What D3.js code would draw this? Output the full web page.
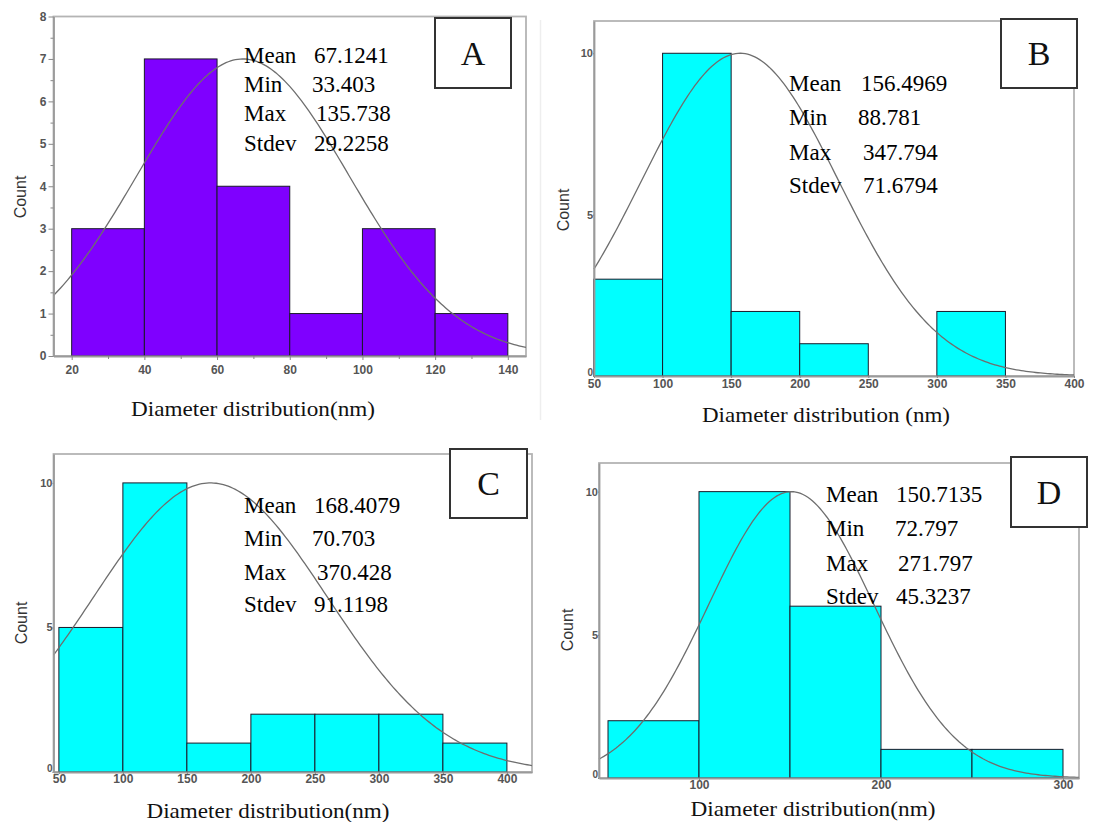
<!DOCTYPE html>
<html>
<head>
<meta charset="utf-8">
<script src="https://cdn.jsdelivr.net/npm/d3@7"></script>
<style>
  body { margin: 0; background: #fff; }
  .stat { font-family: "Liberation Serif", "Times New Roman", serif; font-size: 23px; fill: #000; }
  .xlab { font-family: "Liberation Serif", "Times New Roman", serif; font-size: 22px; fill: #111; }
  .ylab { font-family: "Liberation Sans", Arial, sans-serif; font-size: 16px; fill: #333; }
  .tick text { font-family: "Liberation Sans", Arial, sans-serif; font-weight: bold; fill: #555; }
  .letter { font-family: "Liberation Serif", "Times New Roman", serif; font-size: 34px; fill: #111; }
</style>
</head>
<body>
<svg id="chart" width="1099" height="822"></svg>
<script>
// ---- data ----
const panelNames = ["A", "B", "C", "D"];

const binEdgesA = [20, 40, 60, 80, 100, 120, 140];
const countsA = [3, 7, 4, 1, 3, 1];
const binEdgesB = [50, 100, 150, 200, 250, 300, 350];
const countsB = [3, 10, 2, 1, 0, 2];
const binEdgesC = [50, 100, 150, 200, 250, 300, 350, 400];
const countsC = [5, 10, 1, 2, 2, 2, 1];
const binEdgesD = [50, 100, 150, 200, 250, 300];
const countsD = [2, 10, 6, 1, 1];

// summary statistics printed in each panel
const statNames = ["Mean", "Min", "Max", "Stdev"];
const meanValues = ["67.1241", "156.4969", "168.4079", "150.7135"];
const minValues = ["33.403", "88.781", "70.703", "72.797"];
const maxValues = ["135.738", "347.794", "370.428", "271.797"];
const stdevValues = ["29.2258", "71.6794", "91.1198", "45.3237"];
// height of the fitted normal curve in count units
const curvePeaks = [7, 10, 10, 10];

// tick labels
const xTicksA = [20, 40, 60, 80, 100, 120, 140];
const yTicksA = [0, 1, 2, 3, 4, 5, 6, 7, 8];
const xTicksB = [50, 100, 150, 200, 250, 300, 350, 400];
const yTicksB = [0, 5, 10];
const xTicksC = [50, 100, 150, 200, 250, 300, 350, 400];
const yTicksC = [0, 5, 10];
const xTicksD = [100, 200, 300];
const yTicksD = [0, 5, 10];

const xLabels = ["Diameter distribution(nm)", "Diameter distribution (nm)",
                 "Diameter distribution(nm)", "Diameter distribution(nm)"];

// ---- layout ----
const layout = [
  { left: 53.5, right: 526, top: 16.5, bottom: 356, xd: [15, 145], yd: [0, 8],
    box: [435, 511, 18, 88], sx: 244, vx: [314, 312, 316, 314], sy: [55, 84, 113, 143],
    cy: 197, cx: 20, lx: 253, ly: 408, fill: "#7f00ff", minor: true, xfs: 12, yfs: 12, xty: 370, lw: 244 },
  { left: 594, right: 1074, top: 21, bottom: 376, xd: [50, 400], yd: [0, 11],
    box: [1001, 1077, 19, 88], sx: 789, vx: [861, 858, 863, 863], sy: [83, 117, 152, 185],
    cy: 210, cx: 563, lx: 826, ly: 414, fill: "#00ffff", minor: false, xfs: 12, yfs: 11, xty: 384, lw: 248 },
  { left: 53.5, right: 532, top: 454, bottom: 772, xd: [45.8, 419.6], yd: [0, 11],
    box: [450, 527, 449, 518], sx: 244, vx: [314, 312, 317, 314], sy: [505, 538, 572, 604],
    cy: 623, cx: 21, lx: 268, ly: 810, fill: "#00ffff", minor: false, xfs: 12, yfs: 11, xty: 779, lw: 243 },
  { left: 599, right: 1079, top: 463, bottom: 778, xd: [45.05, 308.8], yd: [0, 11],
    box: [1011, 1087, 457, 527], sx: 826, vx: [896, 895, 898, 896], sy: [494, 528, 563, 596],
    cy: 630, cx: 567, lx: 813, ly: 808, fill: "#00ffff", minor: false, xfs: 12, yfs: 11, xty: 785, lw: 245 }
];

const binEdges = [binEdgesA, binEdgesB, binEdgesC, binEdgesD];
const counts = [countsA, countsB, countsC, countsD];
const xTicks = [xTicksA, xTicksB, xTicksC, xTicksD];
const yTicks = [yTicksA, yTicksB, yTicksC, yTicksD];

const svg = d3.select("#chart");

// faint separator seen between the top panels
svg.append("line").attr("x1", 540.5).attr("x2", 540.5).attr("y1", 20).attr("y2", 420)
  .attr("stroke", "#eee").attr("stroke-width", 1.5);

panelNames.forEach((name, i) => {
  const L = layout[i];
  const x = d3.scaleLinear().domain(L.xd).range([L.left, L.right]);
  const y = d3.scaleLinear().domain(L.yd).range([L.bottom, L.top]);
  const g = svg.append("g").attr("class", "panel");

  // frame
  g.append("rect")
    .attr("x", L.left).attr("y", L.top)
    .attr("width", L.right - L.left).attr("height", L.bottom - L.top)
    .attr("fill", "none").attr("stroke", "#b4b4b4").attr("stroke-width", 1.8);

  // bars
  const bins = counts[i].map((c, k) => ({ x0: binEdges[i][k], x1: binEdges[i][k + 1], c: c }))
    .filter(d => d.c > 0);
  g.selectAll("rect.bar")
    .data(bins)
    .enter()
    .append("rect")
    .attr("class", "bar")
    .attr("x", d => x(d.x0))
    .attr("y", d => y(d.c))
    .attr("width", d => x(d.x1) - x(d.x0))
    .attr("height", d => y(0) - y(d.c))
    .attr("fill", L.fill)
    .attr("stroke", "#1a1a2a")
    .attr("stroke-width", 1);

  // fitted normal curve
  const mu = +meanValues[i], sd = +stdevValues[i], peak = curvePeaks[i];
  const pts = d3.range(L.xd[0], L.xd[1] + 0.001, (L.xd[1] - L.xd[0]) / 200)
    .map(v => [v, peak * Math.exp(-0.5 * ((v - mu) / sd) ** 2)]);
  g.append("path")
    .datum(pts)
    .attr("d", d3.line().x(d => x(d[0])).y(d => y(d[1])))
    .attr("fill", "none")
    .attr("stroke", "#6e6e6e")
    .attr("stroke-width", 1.3);

  // axes
  const xAxis = g.append("g")
    .attr("transform", `translate(0,${L.bottom})`)
    .call(d3.axisBottom(x).tickValues(xTicks[i]).tickSize(L.minor ? 4 : 2).tickSizeOuter(0));
  const yAxis = g.append("g")
    .attr("transform", `translate(${L.left},0)`)
    .call(d3.axisLeft(y).tickValues(yTicks[i]).tickSize(L.minor ? 5 : 1).tickSizeOuter(0));
  [xAxis, yAxis].forEach(a => {
    a.select(".domain").attr("stroke", "#9a9a9a").attr("stroke-width", 1.8);
    a.selectAll(".tick line").attr("stroke", "#888");
  });
  xAxis.selectAll(".tick text").attr("font-size", L.xfs).attr("dy", null)
    .attr("y", L.xty - L.bottom + 4);
  yAxis.selectAll(".tick text").attr("font-size", L.yfs)
    .attr("x", L.minor ? -7 : -1);
  // the zero label sits in the corner; lift it a little so it clears the x labels
  if (!L.minor) {
    yAxis.selectAll(".tick text").filter(d => d === 0)
      .attr("dy", "-0.1em").attr("font-size", 10);
  }

  if (L.minor) {
    g.append("g").attr("transform", `translate(0,${L.bottom})`)
      .call(d3.axisBottom(x).tickValues(d3.range(30, 140, 20)).tickSize(3).tickFormat(""))
      .call(a => a.select(".domain").remove())
      .selectAll("line").attr("stroke", "#888");
    g.append("g").attr("transform", `translate(${L.left},0)`)
      .call(d3.axisLeft(y).tickValues(d3.range(0.5, 8, 1)).tickSize(3).tickFormat(""))
      .call(a => a.select(".domain").remove())
      .selectAll("line").attr("stroke", "#888");
  }

  // axis titles
  g.append("text").attr("class", "ylab")
    .attr("transform", `translate(${L.cx},${L.cy}) rotate(-90)`)
    .attr("text-anchor", "middle").attr("dy", "0.35em")
    .text("Count");
  g.append("text").attr("class", "xlab")
    .attr("x", L.lx).attr("y", L.ly).attr("dy", "0.35em")
    .attr("text-anchor", "middle")
    .attr("textLength", L.lw).attr("lengthAdjust", "spacingAndGlyphs")
    .text(xLabels[i]);

  // statistics block
  const vals = [meanValues[i], minValues[i], maxValues[i], stdevValues[i]];
  statNames.forEach((s, k) => {
    g.append("text").attr("class", "stat")
      .attr("x", L.sx).attr("y", L.sy[k]).attr("dy", "0.35em").text(s);
    g.append("text").attr("class", "stat")
      .attr("x", L.vx[k]).attr("y", L.sy[k]).attr("dy", "0.35em").text(vals[k]);
  });

  // panel letter in box
  const [bx0, bx1, by0, by1] = L.box;
  g.append("rect").attr("x", bx0).attr("y", by0)
    .attr("width", bx1 - bx0).attr("height", by1 - by0)
    .attr("fill", "#fff").attr("stroke", "#333").attr("stroke-width", 2);
  g.append("text").attr("class", "letter")
    .attr("x", (bx0 + bx1) / 2).attr("y", (by0 + by1) / 2)
    .attr("dy", "0.35em").attr("text-anchor", "middle")
    .text(name);
});
</script>
</body>
</html>
